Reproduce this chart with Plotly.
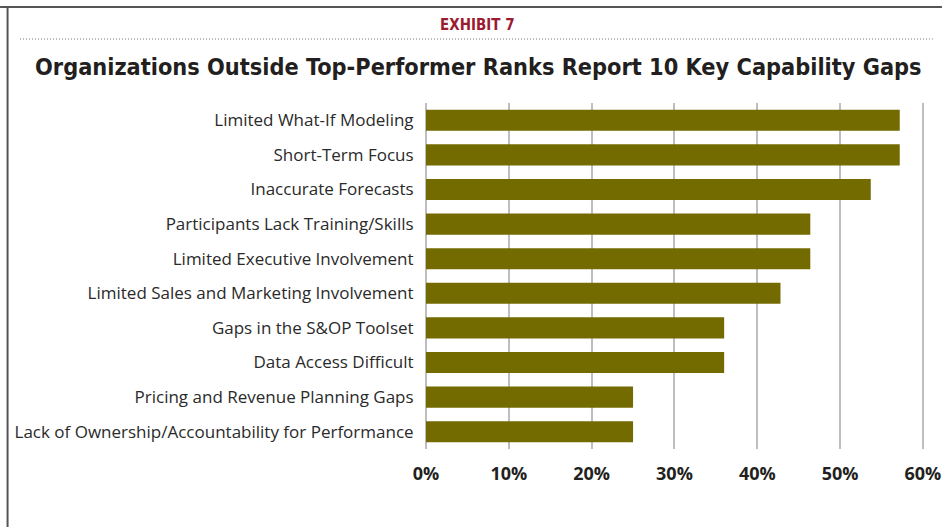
import plotly.graph_objects as go

categories = [
    "Limited What-If Modeling",
    "Short-Term Focus",
    "Inaccurate Forecasts",
    "Participants Lack Training/Skills",
    "Limited Executive Involvement",
    "Limited Sales and Marketing Involvement",
    "Gaps in the S&OP Toolset",
    "Data Access Difficult",
    "Pricing and Revenue Planning Gaps",
    "Lack of Ownership/Accountability for Performance",
]
values = [57.2, 57.2, 53.7, 46.4, 46.4, 42.8, 36.0, 36.0, 25.0, 25.0]
tick_vals = [0, 10, 20, 30, 40, 50, 60]
tick_text = ["0%", "10%", "20%", "30%", "40%", "50%", "60%"]
x_max = 60.25

W, H = 942, 527
L, T, B = 426, 103, 78
UNIT = 497 / 60.0            # px per percentage point
PW = UNIT * x_max
R = W - L - PW
PH = H - T - B

def px(x):
    return (x - L) / PW

def py(y):
    return 1 - (y - T) / PH

GRID = "#bdbdc2"

fig = go.Figure(go.Bar(
    x=values, y=categories, orientation="h",
    marker=dict(color="#746b00", line=dict(width=0)),
    width=0.61,
))

fig.update_layout(
    width=W, height=H,
    margin=dict(l=L, r=R, t=T, b=B, pad=0, autoexpand=False),
    paper_bgcolor="white", plot_bgcolor="white",
    showlegend=False,
    bargap=0.39,
    xaxis=dict(
        range=[0, x_max], tickvals=tick_vals, ticktext=tick_text,
        showgrid=True, gridcolor=GRID, gridwidth=2,
        zeroline=True, zerolinecolor=GRID, zerolinewidth=2,
        ticks="outside", ticklen=8, tickcolor="rgba(0,0,0,0)",
        tickfont=dict(family="Open Sans", size=18, color="#231f20", weight="bold"),
        showline=False, fixedrange=True, automargin=False,
    ),
    yaxis=dict(
        categoryorder="array", categoryarray=categories,
        range=[9.5, -0.5],
        showgrid=False, zeroline=False, showline=False,
        ticks="outside", ticklen=8, tickcolor="rgba(0,0,0,0)",
        tickfont=dict(family="Open Sans", size=17, color="#2a2a2a"),
        fixedrange=True, automargin=False,
    ),
    annotations=[
        dict(text="<b>EXHIBIT 7</b>", xref="paper", yref="paper",
             x=px(478), y=py(25), showarrow=False, xanchor="center", yanchor="middle",
             font=dict(family="DejaVu Sans Condensed, sans-serif", size=15, color="#9b1b30")),
        dict(text="<b>Organizations Outside Top-Performer Ranks Report 10 Key Capability Gaps</b>",
             xref="paper", yref="paper",
             x=px(478.5), y=py(67), showarrow=False, xanchor="center", yanchor="middle",
             font=dict(family="DejaVu Sans Condensed, sans-serif", size=23.3, color="#231f20")),
    ],
    shapes=[
        dict(type="line", xref="paper", yref="paper", x0=px(0), x1=px(942), y0=py(7), y1=py(7),
             line=dict(color="#555555", width=2)),
        dict(type="line", xref="paper", yref="paper", x0=px(7.5), x1=px(7.5), y0=py(7), y1=py(527),
             line=dict(color="#555555", width=2)),
        dict(type="line", xref="paper", yref="paper", x0=px(20), x1=px(933), y0=py(39), y1=py(39),
             line=dict(color="#777777", width=1, dash="1px,2px")),
    ],
)

fig.write_html("out.html")
